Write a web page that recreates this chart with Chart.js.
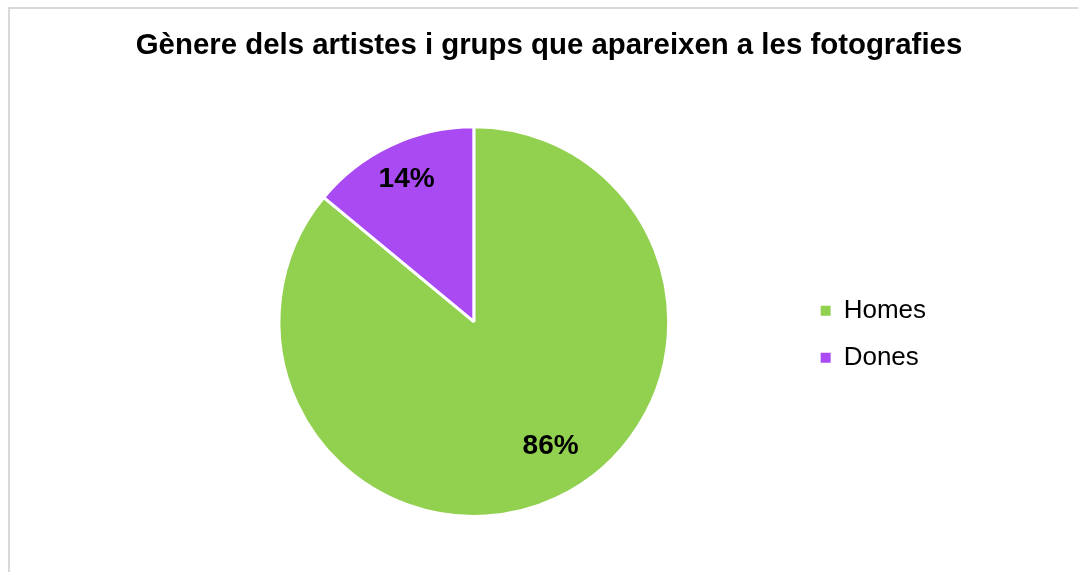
<!DOCTYPE html>
<html>
<head>
<meta charset="utf-8">
<script src="https://cdn.jsdelivr.net/npm/chart.js@4"></script>
<style>
  html, body { margin: 0; padding: 0; background: #fff; }
  .frame {
    position: absolute; left: 8px; top: 7px; width: 1100px; height: 600px;
    border-top: 2px solid #d9d9d9; border-left: 2px solid #d9d9d9;
  }
  .wrap { position: absolute; left: 0; top: 0; width: 1078px; height: 572px; }
</style>
</head>
<body>
<div class="frame"></div>
<div class="wrap"><canvas id="genderChart"></canvas></div>
<script>
// Data
const titleText = 'Gènere dels artistes i grups que apareixen a les fotografies';
const categories = ['Homes', 'Dones'];
const values = [86, 14];
const colors = ['#92D050', '#A94AF2'];

// label placement tweaks (per slice): radius fraction and angle offset in degrees
const labelRadius = [0.75, 0.81];
const labelAngleShift = [-6.5, 0];

// Percent labels inside the slices
const sliceLabels = {
  id: 'sliceLabels',
  afterDatasetsDraw(chart) {
    const ctx = chart.ctx;
    const meta = chart.getDatasetMeta(0);
    const data = chart.data.datasets[0].data;
    const total = data.reduce((a, b) => a + b, 0);
    ctx.save();
    ctx.font = 'bold 28px "Liberation Sans", Arial, sans-serif';
    ctx.fillStyle = '#000';
    ctx.textAlign = 'center';
    ctx.textBaseline = 'middle';
    meta.data.forEach((arc, i) => {
      const p = arc.getProps(['x', 'y', 'startAngle', 'endAngle', 'outerRadius'], true);
      const ang = (p.startAngle + p.endAngle) / 2 + labelAngleShift[i] * Math.PI / 180;
      const r = p.outerRadius * labelRadius[i];
      const txt = Math.round(data[i] / total * 100) + '%';
      ctx.fillText(txt, p.x + Math.cos(ang) * r, p.y + Math.sin(ang) * r);
    });
    ctx.restore();
  }
};

// widen the title box so it sits centred over the whole frame
const titleWiden = {
  id: 'titleWiden',
  afterLayout(chart) {
    const tb = chart.titleBlock;
    if (tb) { tb.left = 20; tb.right = 1078; tb.width = tb.right - tb.left; }
  }
};

// legend squares without the white slice border
const pieLabels = Chart.overrides.pie.plugins.legend.labels.generateLabels;

new Chart(document.getElementById('genderChart'), {
  type: 'pie',
  data: {
    labels: categories,
    datasets: [{
      data: values,
      backgroundColor: colors,
      borderColor: '#ffffff',
      borderWidth: 3
    }]
  },
  options: {
    responsive: true,
    maintainAspectRatio: false,
    animation: false,
    layout: { padding: { left: 148, right: 142, top: 0, bottom: 54 } },
    plugins: {
      title: {
        display: true,
        text: titleText,
        color: '#000',
        font: { family: '"Liberation Sans", Arial, sans-serif', size: 29.4, weight: 'bold' },
        padding: { top: 28, bottom: 62 }
      },
      legend: {
        position: 'right',
        fullSize: false,
        title: { display: true, text: ' ', font: { size: 10 }, padding: { top: 13, bottom: 0 } },
        labels: {
          color: '#000',
          font: { family: '"Liberation Sans", Arial, sans-serif', size: 26 },
          boxWidth: 10,
          boxHeight: 10,
          padding: 21,
          generateLabels: chart => pieLabels(chart).map(l => ({ ...l, lineWidth: 0 }))
        }
      },
      tooltip: { enabled: false }
    }
  },
  plugins: [sliceLabels, titleWiden]
});
</script>
</body>
</html>
